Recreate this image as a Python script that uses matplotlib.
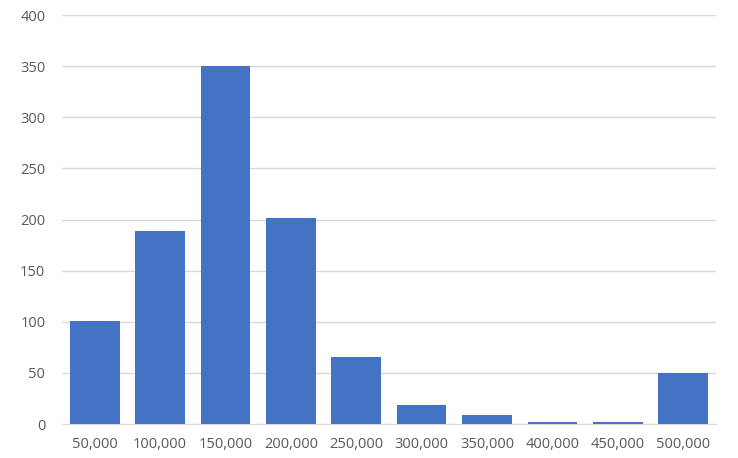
import matplotlib
matplotlib.use("Agg")
import matplotlib.pyplot as plt

categories = ["50,000", "100,000", "150,000", "200,000", "250,000", "300,000",
              "350,000", "400,000", "450,000", "500,000"]
values = [101, 189, 350, 201, 66, 19, 9, 2, 2, 50]
yticks = [0, 50, 100, 150, 200, 250, 300, 350, 400]

plt.rcParams['font.family'] = ['Open Sans', 'DejaVu Sans']
fig = plt.figure(figsize=(7.38, 4.58), dpi=100)
ax = fig.add_axes([0.084, 0.0742, 0.886, 0.893])
x = list(range(len(categories)))
ax.bar(x, values, width=0.76, color="#4472C4", zorder=3)
ax.set_xlim(-0.5, len(categories) - 0.5)
ax.set_ylim(0, 400)
ax.set_yticks(yticks)
ax.set_xticks(x)
ax.set_xticklabels(categories)
ax.grid(axis='y', color='#d9d9d9', linewidth=1, zorder=0)
for s in ['top', 'right', 'left']:
    ax.spines[s].set_visible(False)
ax.spines['bottom'].set_color('#d9d9d9')
ax.tick_params(axis='both', length=0, colors='#595959', labelsize=10.5)
ax.tick_params(axis='y', pad=12)
ax.tick_params(axis='x', pad=9)
fig.savefig("out.png", dpi=100)
